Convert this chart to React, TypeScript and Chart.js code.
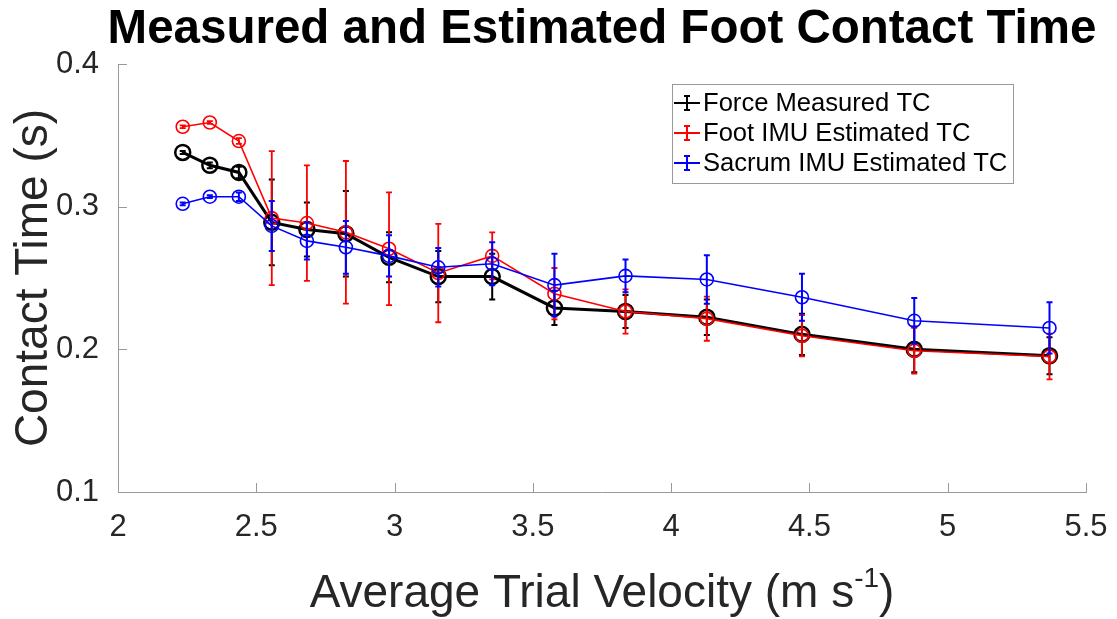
import React, { useEffect, useRef } from 'react';
import { Chart, registerables } from 'chart.js';

Chart.register(...registerables);

const velocity = [2.234, 2.332, 2.437, 2.556, 2.683, 2.824, 2.98, 3.158, 3.353, 3.578, 3.835, 4.129, 4.473, 4.879, 5.368];
const forceTC = [0.338, 0.329, 0.324, 0.289, 0.284, 0.281, 0.2645, 0.251, 0.251, 0.229, 0.2265, 0.2225, 0.2105, 0.2, 0.1955];
const forceErr = [0.001, 0.002, 0.004, 0.03, 0.019, 0.03, 0.0175, 0.018, 0.016, 0.012, 0.0115, 0.0125, 0.0145, 0.016, 0.013];
const footTC = [0.356, 0.359, 0.346, 0.292, 0.2885, 0.282, 0.2705, 0.2535, 0.2655, 0.239, 0.2265, 0.2215, 0.2095, 0.199, 0.195];
const footErr = [0.001, 0.001, 0.002, 0.047, 0.0405, 0.05, 0.0395, 0.0345, 0.0165, 0.018, 0.0155, 0.0155, 0.0145, 0.016, 0.016];
const sacrumTC = [0.302, 0.307, 0.307, 0.2865, 0.276, 0.2715, 0.2655, 0.2575, 0.26, 0.245, 0.2515, 0.249, 0.2365, 0.22, 0.215];
const sacrumErr = [0.001, 0.001, 0.003, 0.0175, 0.013, 0.0185, 0.0145, 0.0135, 0.015, 0.022, 0.0115, 0.017, 0.0165, 0.016, 0.018];

const xTicks = [2, 2.5, 3, 3.5, 4, 4.5, 5, 5.5];
const yTicks = [0.1, 0.2, 0.3, 0.4];
const seriesLabels = ['Force Measured TC', 'Foot IMU Estimated TC', 'Sacrum IMU Estimated TC'];
const seriesColors = ['#000000', '#ff0000', '#0000ff'];
const titleText = 'Measured and Estimated Foot Contact Time';
const yTitle = 'Contact Time (s)';
const xTitleMain = 'Average Trial Velocity (m s';
const xTitleSup = '-1';
const xTitleEnd = ')';

const FONT = '"Liberation Sans", Arial, Helvetica, sans-serif';
const AXIS_COLOR = '#9a9a9a';
const TEXT_COLOR = '#262626';

const errorBarPlugin = {
  id: 'errorBars',
  afterDatasetDraw(chart: any, args: any) {
    const ds = chart.data.datasets[args.index];
    const errs: number[] = ds.errors;
    if (!errs) return;
    const ctx = chart.ctx;
    const xs = chart.scales.x;
    const ys = chart.scales.y;
    ctx.save();
    ctx.strokeStyle = ds.borderColor;
    ctx.lineWidth = ds.errorWidth || 2;
    ds.data.forEach((p: any, i: number) => {
      const px = xs.getPixelForValue(p.x);
      const top = ys.getPixelForValue(p.y + errs[i]);
      const bot = ys.getPixelForValue(p.y - errs[i]);
      const cap = 3;
      ctx.beginPath();
      ctx.moveTo(px, top);
      ctx.lineTo(px, bot);
      ctx.moveTo(px - cap, top);
      ctx.lineTo(px + cap, top);
      ctx.moveTo(px - cap, bot);
      ctx.lineTo(px + cap, bot);
      ctx.stroke();
    });
    ctx.restore();
  },
};

const inwardTicksPlugin = {
  id: 'inwardTicks',
  beforeDatasetsDraw(chart: any) {
    const ctx = chart.ctx;
    const { left, bottom } = chart.chartArea;
    const xs = chart.scales.x;
    const ys = chart.scales.y;
    ctx.save();
    ctx.strokeStyle = AXIS_COLOR;
    ctx.lineWidth = 1;
    ctx.beginPath();
    xTicks.forEach((t) => {
      const px = Math.round(xs.getPixelForValue(t)) + 0.5;
      ctx.moveTo(px, bottom);
      ctx.lineTo(px, bottom - 9);
    });
    yTicks.forEach((t) => {
      const py = Math.round(ys.getPixelForValue(t)) + 0.5;
      ctx.moveTo(left, py);
      ctx.lineTo(left + 9, py);
    });
    ctx.stroke();
    ctx.restore();
  },
};

const titlePlugin = {
  id: 'wideTitle',
  afterDraw(chart: any) {
    const ctx = chart.ctx;
    const { left, right } = chart.chartArea;
    ctx.save();
    ctx.fillStyle = '#000000';
    ctx.font = `bold 47.5px ${FONT}`;
    ctx.textAlign = 'center';
    ctx.textBaseline = 'alphabetic';
    ctx.fillText(titleText, (left + right) / 2, 43);
    ctx.restore();
  },
};

const xTitlePlugin = {
  id: 'xTitleSup',
  afterDraw(chart: any) {
    const ctx = chart.ctx;
    const { left, right } = chart.chartArea;
    const cx = (left + right) / 2;
    const baseline = 607;
    ctx.save();
    ctx.fillStyle = TEXT_COLOR;
    ctx.textBaseline = 'alphabetic';
    ctx.textAlign = 'left';
    const mainFont = `46px ${FONT}`;
    const supFont = `28px ${FONT}`;
    ctx.font = mainFont;
    const wMain = ctx.measureText(xTitleMain).width;
    const wEnd = ctx.measureText(xTitleEnd).width;
    ctx.font = supFont;
    const wSup = ctx.measureText(xTitleSup).width;
    const total = wMain + wSup + wEnd;
    let x = cx - total / 2;
    ctx.font = mainFont;
    ctx.fillText(xTitleMain, x, baseline);
    x += wMain;
    ctx.font = supFont;
    ctx.fillText(xTitleSup, x, baseline - 20);
    x += wSup;
    ctx.font = mainFont;
    ctx.fillText(xTitleEnd, x, baseline);
    ctx.restore();
  },
};

const legendPlugin = {
  id: 'boxLegend',
  afterDraw(chart: any) {
    const ctx = chart.ctx;
    const x0 = 672;
    const y0 = 84;
    const w = 341;
    const h = 99;
    ctx.save();
    ctx.fillStyle = '#ffffff';
    ctx.fillRect(x0, y0, w, h);
    ctx.strokeStyle = AXIS_COLOR;
    ctx.lineWidth = 1;
    ctx.strokeRect(x0 + 0.5, y0 + 0.5, w, h);
    ctx.font = `25.6px ${FONT}`;
    ctx.textBaseline = 'middle';
    ctx.textAlign = 'left';
    chart.data.datasets.forEach((ds: any, i: number) => {
      const cy = y0 + 19 + i * 30;
      ctx.strokeStyle = ds.borderColor;
      ctx.lineWidth = 2;
      ctx.beginPath();
      ctx.moveTo(x0 + 2, cy);
      ctx.lineTo(x0 + 28, cy);
      ctx.moveTo(x0 + 15, cy - 7);
      ctx.lineTo(x0 + 15, cy + 7);
      ctx.moveTo(x0 + 12, cy - 7);
      ctx.lineTo(x0 + 18, cy - 7);
      ctx.moveTo(x0 + 12, cy + 7);
      ctx.lineTo(x0 + 18, cy + 7);
      ctx.stroke();
      ctx.fillStyle = '#000000';
      ctx.fillText(ds.label, x0 + 31, cy + 1);
    });
    ctx.restore();
  },
};

function toPoints(ys: number[]) {
  return velocity.map((v, i) => ({ x: v, y: ys[i] }));
}

export default function App() {
  const canvasRef = useRef<HTMLCanvasElement | null>(null);

  useEffect(() => {
    const canvas = canvasRef.current;
    if (!canvas) return;
    Chart.defaults.font.family = FONT;
    const chart = new Chart(canvas, {
      type: 'line',
      data: {
        datasets: [
          {
            label: seriesLabels[0],
            data: toPoints(forceTC),
            errors: forceErr,
            errorWidth: 2,
            borderColor: seriesColors[0],
            backgroundColor: 'rgba(0,0,0,0)',
            borderWidth: 3,
            pointRadius: 7.5,
            pointBorderWidth: 2.5,
            pointBackgroundColor: 'rgba(0,0,0,0)',
            pointBorderColor: seriesColors[0],
            tension: 0,
            order: 2,
          } as any,
          {
            label: seriesLabels[1],
            data: toPoints(footTC),
            errors: footErr,
            errorWidth: 1.8,
            borderColor: seriesColors[1],
            backgroundColor: 'rgba(0,0,0,0)',
            borderWidth: 1.6,
            pointRadius: 6.5,
            pointBorderWidth: 1.6,
            pointBackgroundColor: 'rgba(0,0,0,0)',
            pointBorderColor: seriesColors[1],
            tension: 0,
            order: 1,
          } as any,
          {
            label: seriesLabels[2],
            data: toPoints(sacrumTC),
            errors: sacrumErr,
            errorWidth: 2,
            borderColor: seriesColors[2],
            backgroundColor: 'rgba(0,0,0,0)',
            borderWidth: 1.6,
            pointRadius: 6.5,
            pointBorderWidth: 1.6,
            pointBackgroundColor: 'rgba(0,0,0,0)',
            pointBorderColor: seriesColors[2],
            tension: 0,
            order: 0,
          } as any,
        ],
      },
      options: {
        responsive: false,
        animation: false,
        devicePixelRatio: 1,
        layout: { padding: { left: 0, right: 31, top: 64, bottom: 0 } },
        plugins: {
          legend: { display: false },
          tooltip: { enabled: false },
          title: { display: false },
        },
        scales: {
          x: {
            type: 'linear',
            min: 2,
            max: 5.5,
            grid: { display: false },
            border: { display: true, color: AXIS_COLOR, width: 1 },
            afterBuildTicks: (scale: any) => {
              scale.ticks = xTicks.map((v) => ({ value: v }));
            },
            ticks: {
              color: TEXT_COLOR,
              font: { size: 31, family: FONT },
              padding: 9,
              maxRotation: 0,
              autoSkip: false,
              callback: (v: any) => String(v),
            },
            afterFit: (scale: any) => {
              scale.height = 127;
            },
          },
          y: {
            type: 'linear',
            min: 0.1,
            max: 0.4,
            grid: { display: false },
            border: { display: true, color: AXIS_COLOR, width: 1 },
            afterBuildTicks: (scale: any) => {
              scale.ticks = yTicks.map((v) => ({ value: v }));
            },
            ticks: {
              color: TEXT_COLOR,
              font: { size: 31, family: FONT },
              padding: 11,
              autoSkip: false,
              callback: (v: any) => String(Math.round(v * 10) / 10),
            },
            title: {
              display: true,
              text: yTitle,
              color: TEXT_COLOR,
              font: { size: 46, family: FONT, lineHeight: 1.2 },
              padding: { top: 7, bottom: 0 },
            },
            afterFit: (scale: any) => {
              scale.width = 118;
            },
          },
        },
      } as any,
      plugins: [inwardTicksPlugin, errorBarPlugin, titlePlugin, xTitlePlugin, legendPlugin],
    });
    return () => {
      chart.destroy();
    };
  }, []);

  return (
    <div style={{ position: 'absolute', left: 0, top: 0, width: 1117, height: 619, background: '#ffffff' }}>
      <canvas ref={canvasRef} width={1117} height={619} style={{ display: 'block' }} />
    </div>
  );
}
